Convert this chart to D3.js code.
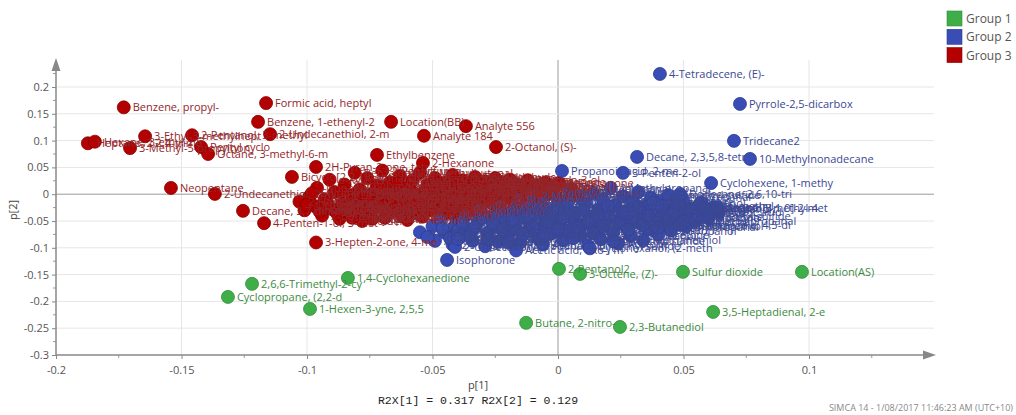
<!DOCTYPE html>
<html>
<head>
<meta charset="utf-8">
<script src="https://cdn.jsdelivr.net/npm/d3@7"></script>
<style>
  body { margin: 0; background: #fff; }
  svg { display: block; }
  text { font-family: "Open Sans", "Noto Sans", sans-serif; }
</style>
</head>
<body>
<svg id="chart"></svg>
<script>
// tick values
const xTicks = [-0.2, -0.15, -0.1, -0.05, 0, 0.05, 0.1];
const yTicks = [-0.3, -0.25, -0.2, -0.15, -0.1, -0.05, 0, 0.05, 0.1, 0.15, 0.2];
const groups = ["Group 1", "Group 2", "Group 3"];

// labelled loadings [p1, p2, name]
const group1 = [
    [-0.1219, -0.1673, "2,6,6-Trimethyl-2-cy"],
    [-0.1315, -0.1916, "Cyclopropane, (2,2-d"],
    [-0.0988, -0.2140, "1-Hexen-3-yne, 2,5,5"],
    [-0.0837, -0.1562, "1,4-Cyclohexanedione"],
    [0.0004, -0.1393, "2-Pentanol2"],
    [0.0088, -0.1487, "3-Octene, (Z)-"],
    [0.0498, -0.1449, "Sulfur dioxide"],
    [0.0972, -0.1449, "Location(AS)"],
    [0.0618, -0.2196, "3,5-Heptadienal, 2-e"],
    [-0.0127, -0.2400, "Butane, 2-nitro-"],
    [0.0247, -0.2476, "2,3-Butanediol"],
];

const group2 = [
    [0.0406, 0.2244, "4-Tetradecene, (E)-"],
    [0.0725, 0.1685, "Pyrrole-2,5-dicarbox"],
    [0.0701, 0.0995, "Tridecane2"],
    [0.0765, 0.0659, "10-Methylnonadecane"],
    [0.0315, 0.0696, "Decane, 2,3,5,8-tetr"],
    [0.0016, 0.0435, "Propanoic acid, 2-me"],
    [0.0259, 0.0398, "3-Penten-2-ol"],
    [0.0610, 0.0208, "Cyclohexene, 1-methy"],
    [0.0486, 0.0006, "Dodecane, 2,6,10-tri"],
    [0.0414, -0.0218, "Undecane, 5-methyl-"],
    [0.0582, -0.0255, "Benzene, 1-methyl-4"],
    [0.0637, -0.0255, "Bicyclo[3.1.0]-2-met"],
    [0.0486, -0.0575, "1H-Imidazole, 4,5-di"],
    [0.0127, -0.1010, "Cyclohexanol, (2-meth"],
    [-0.0167, -0.1050, "Acetic acid, oxo-, m"],
    [-0.0442, -0.1226, "Isophorone"],
    [-0.0410, -0.0983, "2-Undecanone"],
    [-0.0398, -0.0834, "Octanal, 2-ethyl"],
];

const group3 = [
    [-0.1730, 0.1620, "Benzene, propyl-"],
    [-0.1163, 0.1700, "Formic acid, heptyl"],
    [-0.1195, 0.1350, "Benzene, 1-ethenyl-2"],
    [-0.1147, 0.1120, "2-Undecanethiol, 2-m"],
    [-0.0665, 0.1350, "Location(BB)"],
    [-0.0367, 0.1270, "Analyte 556"],
    [-0.0534, 0.1090, "Analyte 184"],
    [-0.0247, 0.0880, "2-Octanol, (S)-"],
    [-0.1873, 0.0950, "Heptane, 2,2,4-trime"],
    [-0.1845, 0.0980, "Hexane, 3-ethyl-2,5"],
    [-0.1705, 0.0860, "3-Methyl-5-propylnon"],
    [-0.1645, 0.1080, "3-Ethyl-3-methylhept"],
    [-0.1458, 0.1100, "2-Pentanol, 3-methyl"],
    [-0.1422, 0.0880, "Pentyl cyclo"],
    [-0.1394, 0.0750, "Octane, 3-methyl-6-m"],
    [-0.1542, 0.0117, "Neopentane"],
    [-0.1367, 0.0006, "2-Undecanethiol, 2-m"],
    [-0.1255, -0.0310, "Decane, 3,7-dimethyl"],
    [-0.1171, -0.0540, "4-Penten-1-ol, 3-met"],
    [-0.0964, -0.0901, "3-Hepten-2-one, 4-me"],
    [-0.0964, 0.0509, "2H-Pyran-2-one, tetr"],
    [-0.1060, 0.0323, "Bicyclo[2.2.1]hept"],
    [-0.0721, 0.0733, "Ethylbenzene"],
    [-0.0538, 0.0584, "2-Hexanone"],
    [0.0004, 0.0210, "2-Pentanone"],
];

// dense centre of the plot [p1, p2]
const group3Cluster = [
    [-0.103,-0.014],[-0.101,-0.030],[-0.099,-0.004],[-0.097,-0.022],[-0.096,0.012],[-0.094,-0.040],
    [-0.093,-0.010],[-0.091,0.027],[-0.090,-0.028],[-0.089,0.004],[-0.087,-0.046],[-0.086,-0.017],
    [-0.085,0.018],[-0.083,-0.035],[-0.082,-0.002],[-0.081,0.040],[-0.080,-0.024],[-0.079,0.009],
    [-0.078,-0.050],[-0.077,-0.012],[-0.076,0.030],[-0.075,-0.038],[-0.074,0.001],[-0.073,-0.026],
    [-0.072,0.016],[-0.071,-0.008],[-0.070,0.044],[-0.069,-0.044],[-0.068,-0.019],[-0.067,0.022],
    [-0.066,-0.032],[-0.065,0.005],[-0.064,-0.013],[-0.063,0.034],[-0.062,-0.041],[-0.061,-0.003],
    [-0.060,0.013],[-0.059,-0.025],[-0.058,0.026],[-0.057,-0.009],[-0.056,-0.036],[-0.055,0.040],
    [-0.054,0.002],[-0.053,-0.020],[-0.052,0.018],[-0.051,-0.030],[-0.050,-0.005],[-0.049,0.030],
    [-0.048,-0.016],[-0.047,0.009],[-0.046,-0.040],[-0.045,0.022],[-0.044,-0.024],[-0.043,-0.001],
    [-0.042,0.036],[-0.041,0.014],[-0.040,-0.012],[-0.039,-0.032],[-0.038,0.026],[-0.037,0.004],
    [-0.036,-0.020],[-0.035,0.017],[-0.034,-0.006],[-0.033,0.032],[-0.032,-0.026],[-0.031,0.009],
    [-0.030,-0.014],[-0.029,0.024],[-0.028,0.000],[-0.027,0.015],[-0.026,-0.018],[-0.025,0.030],
    [-0.024,0.006],[-0.023,-0.008],[-0.022,0.020],[-0.021,-0.002],[-0.020,0.012],[-0.019,0.027],
    [-0.018,-0.012],[-0.017,0.004],[-0.016,0.018],[-0.014,-0.004],[-0.013,0.010],[-0.012,0.026],
    [-0.011,0.002],[-0.009,0.016],[-0.008,-0.006],[-0.007,0.008],[-0.005,0.022],[-0.004,0.000],
    [-0.002,0.012],
    [-0.100,-0.020],[-0.098,0.002],[-0.095,-0.032],[-0.092,-0.016],[-0.088,-0.036],[-0.086,0.006],
    [-0.084,-0.024],[-0.082,-0.044],[-0.080,0.000],[-0.078,-0.030],[-0.076,-0.004],[-0.074,-0.046],
    [-0.072,-0.018],[-0.070,0.008],[-0.068,-0.034],[-0.066,-0.006],[-0.064,0.020],[-0.062,-0.024],
    [-0.060,-0.048],[-0.058,0.004],[-0.056,-0.016],[-0.054,-0.042],[-0.052,0.010],[-0.050,-0.026],
    [-0.048,0.020],[-0.046,-0.010],[-0.044,0.012],[-0.042,-0.036],[-0.040,0.002],[-0.038,-0.020],
    [-0.036,0.012],[-0.034,-0.030],[-0.032,0.020],[-0.030,-0.004],[-0.028,0.012],[-0.026,-0.010],
    [-0.024,0.020],[-0.022,0.000],[-0.020,0.024],[-0.018,0.008],[-0.016,-0.006],[-0.014,0.016],
    [-0.012,0.000],[-0.010,0.010],[-0.006,0.014],[-0.003,0.006],
];

const group2Cluster = [
    [-0.055,-0.071],[-0.050,-0.060],[-0.049,-0.087],[-0.047,-0.048],[-0.045,-0.072],[-0.042,-0.094],
    [-0.041,-0.058],[-0.039,-0.080],[-0.037,-0.040],[-0.036,-0.066],[-0.034,-0.087],[-0.032,-0.052],
    [-0.031,-0.030],[-0.029,-0.097],[-0.028,-0.072],[-0.027,-0.044],[-0.025,-0.060],[-0.024,-0.088],
    [-0.023,-0.022],[-0.021,-0.050],[-0.020,-0.076],[-0.019,-0.035],[-0.017,-0.064],[-0.016,-0.010],
    [-0.015,-0.090],[-0.014,-0.044],[-0.013,-0.026],[-0.012,-0.070],[-0.011,-0.055],[-0.010,-0.004],
    [-0.009,-0.036],[-0.008,-0.082],[-0.007,-0.016],[-0.006,-0.060],[-0.006,-0.094],[-0.005,-0.046],
    [-0.004,-0.028],[-0.003,-0.074],[-0.002,0.004],[-0.001,-0.040],[0.000,-0.012],[0.001,-0.058],
    [0.002,-0.086],[0.003,-0.024],[0.004,-0.068],[0.005,0.010],[0.006,-0.048],[0.007,-0.034],
    [0.008,-0.004],[0.009,-0.078],[0.010,-0.056],[0.011,-0.018],[0.012,-0.096],[0.013,-0.042],
    [0.014,0.002],[0.015,-0.064],[0.016,-0.028],[0.017,-0.084],[0.018,-0.010],[0.019,-0.050],
    [0.020,-0.036],[0.021,0.012],[0.022,-0.072],[0.023,-0.020],[0.024,-0.092],[0.025,-0.044],
    [0.026,-0.004],[0.027,-0.060],[0.028,-0.030],[0.029,-0.078],[0.030,-0.014],[0.031,-0.052],
    [0.032,0.004],[0.033,-0.038],[0.034,-0.086],[0.035,-0.022],[0.036,-0.066],[0.037,-0.006],
    [0.038,-0.046],[0.039,-0.030],[0.040,-0.076],[0.041,-0.014],[0.042,-0.058],[0.043,-0.038],
    [0.044,-0.002],[0.045,-0.068],[0.046,-0.024],[0.047,-0.048],[0.049,-0.034],[0.050,-0.012],
    [0.051,-0.060],[0.052,-0.042],[0.054,-0.026],[0.055,-0.050],[0.057,-0.016],[0.058,-0.036],
    [0.060,-0.044],[0.062,-0.024],[0.064,-0.034],
    [-0.052,-0.080],[-0.046,-0.064],[-0.043,-0.082],[-0.040,-0.068],[-0.038,-0.052],[-0.035,-0.076],
    [-0.033,-0.062],[-0.030,-0.044],[-0.028,-0.084],[-0.026,-0.054],[-0.024,-0.034],[-0.022,-0.066],
    [-0.020,-0.090],[-0.018,-0.048],[-0.016,-0.028],[-0.014,-0.074],[-0.012,-0.040],[-0.010,-0.060],
    [-0.008,-0.022],[-0.006,-0.078],[-0.004,-0.052],[-0.002,-0.034],[0.000,-0.066],[0.002,-0.044],
    [0.004,-0.014],[0.006,-0.082],[0.008,-0.062],[0.010,-0.030],[0.012,-0.050],[0.014,-0.072],
    [0.016,-0.040],[0.018,-0.060],[0.020,-0.022],[0.022,-0.088],[0.024,-0.054],[0.026,-0.034],
    [0.028,-0.066],[0.030,-0.044],[0.032,-0.024],[0.034,-0.058],[0.036,-0.040],[0.038,-0.016],
    [0.040,-0.062],[0.042,-0.028],[0.044,-0.048],[0.046,-0.036],[0.048,-0.018],[0.050,-0.052],
    [0.053,-0.030],[0.056,-0.040],[0.059,-0.028],
];

// names used for the crowded centre labels
const group3Names = ["2-Heptanone", "Hexanal", "Toluene", "1-Octen-3-ol", "Nonanal", "2-Butanone",
    "Heptanal", "o-Xylene", "Limonene", "3-Methylbutanal", "2-Pentylfuran", "Octanal",
    "Styrene", "1-Hexanol", "Decanal", "Benzaldehyde"];
const group2Names = ["Acetone", "Ethanol", "Acetic acid", "1-Butanol", "Dimethyl sulfide",
    "2-Propanol", "Pentanal", "Butanal", "Furfural", "Acetoin", "Methanethiol", "Ethyl acetate",
    "Propanal", "2-Methylpropanal", "Phenol", "Indole"];

const colors = { "Group 1": "#3fae49", "Group 2": "#3a4db4", "Group 3": "#b30000" };
const strokes = { "Group 1": "#2f8c3a", "Group 2": "#2b3a94", "Group 3": "#8a0000" };
const labelColors = { "Group 1": "#3d8a3f", "Group 2": "#3b4793", "Group 3": "#93262a" };

const width = 1016, height = 415;
const svg = d3.select("#chart").attr("width", width).attr("height", height);

const x = d3.scaleLinear().domain([-0.2, 0.15]).range([56, 934.5]);
const y = d3.scaleLinear().domain([-0.3, 0.25]).range([355, 60.2]);

// grid
const grid = svg.append("g");
grid.selectAll(".vg").data(xTicks.slice(1)).join("line")
    .attr("x1", d => x(d)).attr("x2", d => x(d))
    .attr("y1", 60).attr("y2", 355)
    .attr("stroke", d => d === 0 ? "#9a9a9a" : "#e6e6e6").attr("stroke-width", 1);
grid.selectAll(".hg").data(yTicks.slice(1)).join("line")
    .attr("x1", 56).attr("x2", 934)
    .attr("y1", d => y(d)).attr("y2", d => y(d))
    .attr("stroke", d => d === 0 ? "#9a9a9a" : "#e6e6e6").attr("stroke-width", 1);

// axes
const xAxis = svg.append("g")
    .attr("transform", `translate(0, ${y(-0.3)})`)
    .call(d3.axisBottom(x).tickValues(xTicks).tickFormat(d => String(d)).tickSize(4).tickSizeOuter(0));
const yAxis = svg.append("g")
    .attr("transform", `translate(${x(-0.2)}, 0)`)
    .call(d3.axisLeft(y).tickValues(yTicks).tickFormat(d => String(d)).tickSize(4).tickSizeOuter(0));
[xAxis, yAxis].forEach(a => {
    a.select(".domain").remove();
    a.selectAll("line").attr("stroke", "#888");
    a.selectAll("text").attr("fill", "#555").style("font-size", "11px")
        .style("font-family", "'Open Sans', sans-serif");
});
xAxis.selectAll("text").attr("dy", "1.1em");

// minor ticks
const xMinor = xTicks.slice(0, -1).map((d, i) => (d + xTicks[i + 1]) / 2).concat([0.125]);
const yMinor = yTicks.slice(0, -1).map((d, i) => (d + yTicks[i + 1]) / 2).concat([0.225]);
svg.append("g").selectAll("line").data(xMinor).join("line")
    .attr("x1", d => x(d)).attr("x2", d => x(d))
    .attr("y1", 355).attr("y2", 358).attr("stroke", "#999");
svg.append("g").selectAll("line").data(yMinor).join("line")
    .attr("x1", 53).attr("x2", 56)
    .attr("y1", d => y(d)).attr("y2", d => y(d)).attr("stroke", "#999");

// axis lines with arrowheads
svg.append("line").attr("x1", 56).attr("x2", 926).attr("y1", 355).attr("y2", 355)
    .attr("stroke", "#888").attr("stroke-width", 1.5);
svg.append("path").attr("d", "M936,355 L923,350.5 L923,359.5 Z").attr("fill", "#888");
svg.append("line").attr("x1", 56).attr("x2", 56).attr("y1", 355).attr("y2", 70)
    .attr("stroke", "#888").attr("stroke-width", 1.5);
svg.append("path").attr("d", "M56,58 L51.5,71 L60.5,71 Z").attr("fill", "#888");

// points
const all = [];
group3Cluster.forEach((d, i) => all.push({ p1: d[0], p2: d[1], name: group3Names[i % group3Names.length], g: "Group 3" }));
group3.forEach(d => all.push({ p1: d[0], p2: d[1], name: d[2], g: "Group 3" }));
group2Cluster.forEach((d, i) => all.push({ p1: d[0], p2: d[1], name: group2Names[i % group2Names.length], g: "Group 2" }));
group2.forEach(d => all.push({ p1: d[0], p2: d[1], name: d[2], g: "Group 2" }));
group1.forEach(d => all.push({ p1: d[0], p2: d[1], name: d[2], g: "Group 1" }));

const plot = svg.append("g");
plot.selectAll("circle").data(all).join("circle")
    .attr("cx", d => x(d.p1)).attr("cy", d => y(d.p2)).attr("r", 6.5)
    .attr("fill", d => colors[d.g]).attr("stroke", d => strokes[d.g]).attr("stroke-width", 0.8);

plot.selectAll("text").data(all).join("text")
    .attr("x", d => x(d.p1) + 9).attr("y", d => y(d.p2) + 4)
    .attr("fill", d => labelColors[d.g]).style("font-size", "11px")
    .text(d => d.name);

// axis titles
svg.append("text").attr("x", 478).attr("y", 389).attr("text-anchor", "middle")
    .attr("fill", "#444").style("font-size", "11px").text("p[1]");
svg.append("text").attr("x", 478).attr("y", 404).attr("text-anchor", "middle")
    .attr("fill", "#222").style("font-size", "11.5px")
    .style("font-family", "'Liberation Mono', 'DejaVu Sans Mono', monospace")
    .text("R2X[1] = 0.317 R2X[2] = 0.129");
svg.append("text").attr("transform", "translate(17, 210) rotate(-90)").attr("text-anchor", "middle")
    .attr("fill", "#444").style("font-size", "11px").text("p[2]");

// legend
const legend = svg.append("g").attr("transform", "translate(947, 11)");
groups.forEach((g, i) => {
    legend.append("rect").attr("x", 0).attr("y", i * 18.3).attr("width", 15).attr("height", 15)
        .attr("fill", colors[g]).attr("stroke", strokes[g]).attr("stroke-width", 0.6);
    legend.append("text").attr("x", 19).attr("y", i * 18.3 + 12)
        .attr("fill", "#555").style("font-size", "12px").text(g);
});

// footer
svg.append("text").attr("x", 1013).attr("y", 411).attr("text-anchor", "end")
    .attr("fill", "#888").style("font-size", "9px")
    .text("SIMCA 14 - 1/08/2017 11:46:23 AM (UTC+10)");
</script>
</body>
</html>
